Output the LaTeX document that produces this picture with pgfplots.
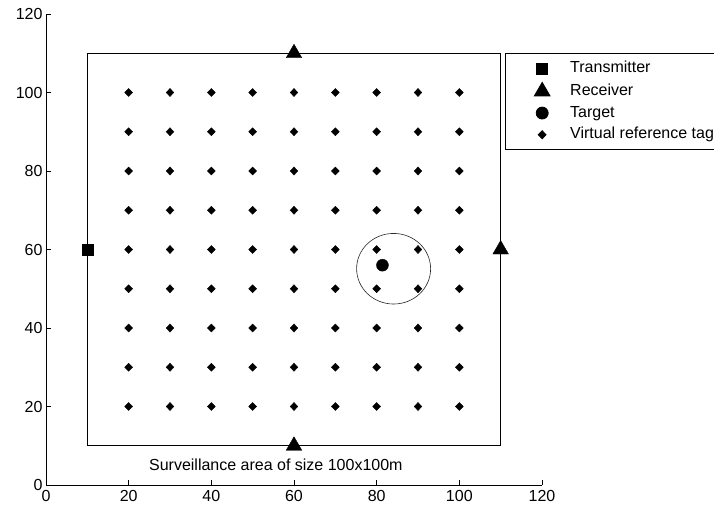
\documentclass[border=0pt]{standalone}
\usepackage{fontspec}
\setmainfont{Liberation Sans}
\usepackage{pgfplots}
\pgfplotsset{compat=1.18}
\pgfplotsset{myleg/.style={legend image code/.code={\path[draw=none,fill=none] (0pt,-3pt) rectangle (65pt,3pt); \draw[##1] plot coordinates {(37pt,0pt)};}}}
\begin{document}
\begin{tikzpicture}[font=\fontsize{16pt}{19pt}\selectfont]
\begin{axis}[
  x=4.1333pt, y=3.925pt,
  xmin=0,xmax=120,ymin=0,ymax=120,
  axis lines=left, axis line style={-, line width=0.8pt, black},
  xtick={0,20,...,120}, ytick={0,20,...,120},
  tick align=inside, major tick length=5pt,
  tick style={line width=0.8pt, black},
  /pgf/number format/assume math mode=true,
  ticklabel style={font=\fontsize{16pt}{19pt}\selectfont},
  xticklabel style={yshift=-2pt},
  clip=false,
  legend style={at={(axis cs:111,110)}, anchor=north west, draw=black, line width=0.8pt,
    inner xsep=0pt, inner ysep=7pt, row sep=5.7pt,
    nodes={inner sep=0pt, text height=12pt, text depth=4pt},
    font=\fontsize{16pt}{19pt}\selectfont},
  legend cell align=left,
]
\addplot[black, line width=0.8pt, forget plot] coordinates {(10,10) (110,10) (110,110) (10,110) (10,10)};
\addplot[only marks, mark=square*, mark size=5.5pt, black, myleg] coordinates {(10,60)};
\addlegendentry{Transmitter}
\addplot[only marks, mark=triangle*, mark size=9pt, black, myleg] coordinates {(60,110) (110,60) (60,10)};
\addlegendentry{Receiver}
\addplot[only marks, mark=*, mark size=6pt, black, myleg] coordinates {(81.4,56)};
\addlegendentry{Target}
\addplot[only marks, mark=diamond*, mark size=4pt, mark options={xscale=1.3}, black, myleg] coordinates {
(20,20) (30,20) (40,20) (50,20) (60,20) (70,20) (80,20) (90,20) (100,20)
(20,30) (30,30) (40,30) (50,30) (60,30) (70,30) (80,30) (90,30) (100,30)
(20,40) (30,40) (40,40) (50,40) (60,40) (70,40) (80,40) (90,40) (100,40)
(20,50) (30,50) (40,50) (50,50) (60,50) (70,50) (80,50) (90,50) (100,50)
(20,60) (30,60) (40,60) (50,60) (60,60) (70,60) (80,60) (90,60) (100,60)
(20,70) (30,70) (40,70) (50,70) (60,70) (70,70) (80,70) (90,70) (100,70)
(20,80) (30,80) (40,80) (50,80) (60,80) (70,80) (80,80) (90,80) (100,80)
(20,90) (30,90) (40,90) (50,90) (60,90) (70,90) (80,90) (90,90) (100,90)
(20,100) (30,100) (40,100) (50,100) (60,100) (70,100) (80,100) (90,100) (100,100)
};
\addlegendentry{Virtual reference tag}
\draw[black!85, line width=0.6pt] (axis cs:84.1,55.1) ellipse [x radius=37pt, y radius=35.3pt];
\node[anchor=base west, inner sep=0pt] at (axis cs:24.9,3.57) {Surveillance area of size 100x100m};
\end{axis}
\pgfresetboundingbox
\path[use as bounding box] (-46pt,-22pt) rectangle (668pt,485pt);
\end{tikzpicture}
\end{document}
